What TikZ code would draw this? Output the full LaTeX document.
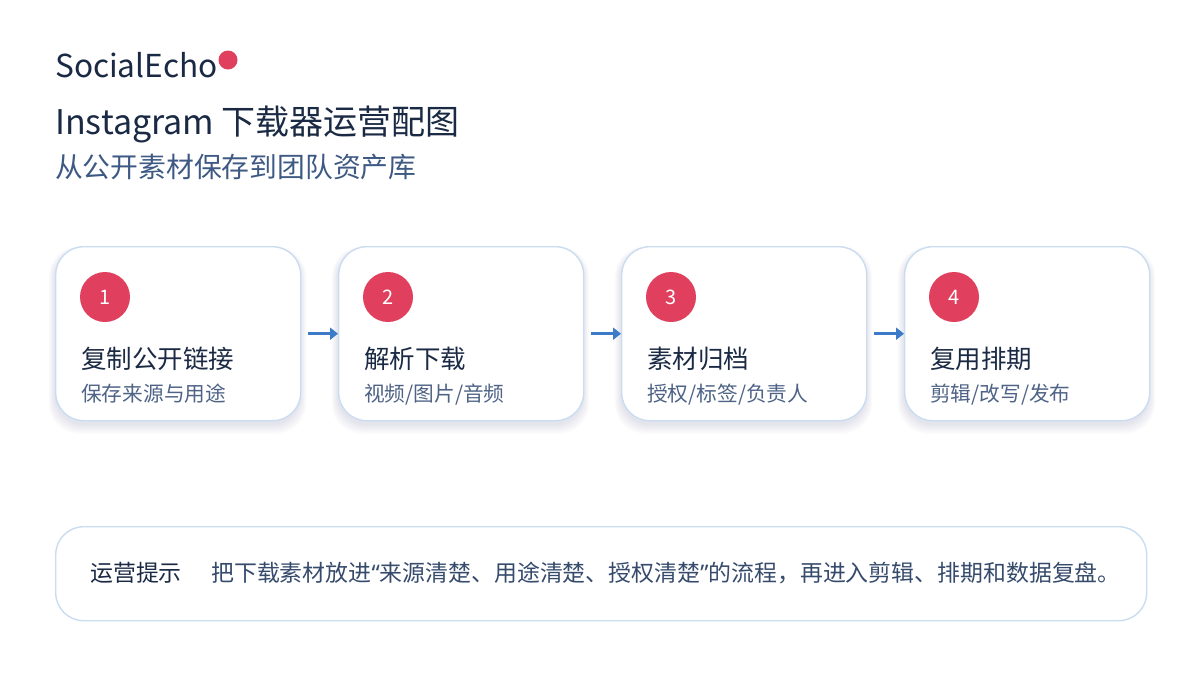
\documentclass[tikz,border=0pt]{standalone}
\usepackage{fontspec}
\setmainfont{Noto Sans CJK SC}
\newfontfamily\latinq{Noto Sans}
\usetikzlibrary{arrows.meta}
\definecolor{navy}{HTML}{1B2A44}
\definecolor{subblue}{HTML}{3E5A84}
\definecolor{cardline}{HTML}{CADDF0}
\definecolor{accent}{HTML}{E0405E}
\definecolor{arrowblue}{HTML}{3C7BC9}
\definecolor{cardsub}{HTML}{4E6386}
\definecolor{tipbody}{HTML}{364B6C}
\begin{document}
\begin{tikzpicture}[x=1pt,y=-1pt,
  card/.style={draw=cardline,line width=1.4pt,fill=white,rounded corners=28pt,
    minimum width=245pt,minimum height=174pt,inner sep=0pt,anchor=north west},
  badge/.style={circle,fill=accent,minimum size=50pt,inner sep=0pt,text=white,
    font=\fontsize{20}{24}\selectfont},
  ctitle/.style={anchor=base west,inner sep=0pt,text=navy,font=\fontsize{25.5}{30}\selectfont},
  csub/.style={anchor=base west,inner sep=0pt,text=cardsub,font=\fontsize{20.7}{24}\selectfont},
  flow/.style={draw=arrowblue,line width=3.4pt,-{Triangle[length=8pt,width=12pt]},shorten <=7pt},
  shadowlayer/.style={fill=black!60!blue,opacity=0.01}
]
\useasboundingbox[fill=white] (0,0) rectangle (1200,675);

% header
\node[anchor=base west,inner sep=0pt,text=navy,font=\fontsize{31.6}{36}\selectfont] (brand) at (55,77) {SocialEcho};
\node[circle,fill=accent,minimum size=19pt,inner sep=0pt] (dot) at (228,60) {};
\node[anchor=base west,inner sep=0pt,text=navy,font=\fontsize{34}{40}\selectfont] (title) at (55,134) {Instagram 下载器运营配图};
\node[anchor=base west,inner sep=0pt,text=subblue,font=\fontsize{27.8}{32}\selectfont] (subtitle) at (55,177.5) {从公开素材保存到团队资产库};

% cards
\foreach \i/\x/\t/\s in {1/55/{复制公开链接}/{保存来源与用途},
                         2/338/{解析下载}/{视频/图片/音频},
                         3/621/{素材归档}/{授权/标签/负责人},
                         4/904/{复用排期}/{剪辑/改写/发布}}{
  \foreach \k in {1,...,9}{
    \fill[shadowlayer,rounded corners=30pt]
      (\x-\k*0.7,246+4-\k*0.4) rectangle (\x+245+\k*0.7,420+4+\k*1.1);
  }
  \node[card] (c\i) at (\x,246) {};
  \node[badge] (n\i) at (\x+50,297) {\i};
  \node[ctitle] (t\i) at (\x+26,368.5) {\t};
  \node[csub] (s\i) at (\x+26,401.5) {\s};
}

\draw[flow] (c1.east) -- (c2.west);
\draw[flow] (c2.east) -- (c3.west);
\draw[flow] (c3.east) -- (c4.west);

% tip box
\node[draw=cardline,line width=1.4pt,fill=white,rounded corners=28pt,
  minimum width=1091pt,minimum height=94pt,inner sep=0pt,anchor=north west] (tipbox) at (55,526) {};
\node[anchor=base west,inner sep=0pt,text=navy,font=\fontsize{22.9}{27}\selectfont] (tiplabel) at (90,581) {运营提示};
\node[anchor=base west,inner sep=0pt,text=tipbody,font=\fontsize{22.9}{27}\selectfont] (tiptext) at (211,581) {把下载素材放进{\latinq “}来源清楚、用途清楚、授权清楚{\latinq ”}的流程，再进入剪辑、排期和数据复盘。};
\end{tikzpicture}
\end{document}
